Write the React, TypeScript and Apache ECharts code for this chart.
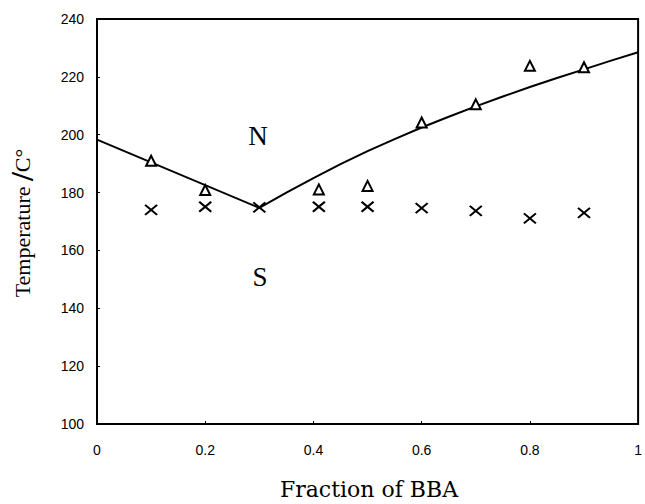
import React, { useEffect, useRef } from "react";
import * as echarts from "echarts";

const xTickValues = [0, 0.2, 0.4, 0.6, 0.8, 1];
const yTickValues = [100, 120, 140, 160, 180, 200, 220, 240];

// Δ points (N boundary)
const fractionsN = [0.1, 0.2, 0.41, 0.5, 0.6, 0.7, 0.8, 0.9];
const tempN = [191.0, 180.9, 181.1, 182.3, 204.2, 210.5, 223.8, 223.3];

// × points (S boundary)
const fractionsS = [0.1, 0.2, 0.3, 0.41, 0.5, 0.6, 0.7, 0.8, 0.9];
const tempS = [174.0, 175.1, 174.9, 175.1, 175.1, 174.6, 173.7, 171.1, 173.0];

// fitted curve
const curveX = [0, 0.3, 0.35, 0.4, 0.45, 0.5, 0.55, 0.6, 0.65, 0.7, 0.75, 0.8, 0.85, 0.9, 0.95, 1.0];
const curveY = [198.3, 174.7, 180.0, 185.0, 189.8, 194.3, 198.5, 202.5, 206.2, 209.8, 213.2, 216.5, 219.6, 222.6, 225.6, 228.5];

const regionLabels = ["N", "S"];

export default function App() {
  const ref = useRef<HTMLDivElement>(null);
  useEffect(() => {
    if (!ref.current) return;
    const chart = echarts.init(ref.current, null, { renderer: "svg" });
    chart.setOption({
      animation: false,
      backgroundColor: "#fff",
      grid: {
        left: 97,
        top: 19,
        right: 3,
        bottom: 80,
        show: true,
        borderColor: "#000",
        borderWidth: 2,
      },
      xAxis: {
        type: "value",
        min: 0,
        max: 1,
        interval: 0.2,
        axisLine: { show: true, onZero: false, lineStyle: { color: "#000", width: 2 } },
        axisTick: { show: true, inside: true, length: 3, lineStyle: { color: "#000", width: 1 } },
        splitLine: { show: false },
        axisLabel: {
          color: "#000",
          fontFamily: "Liberation Sans",
          fontSize: 14,
          margin: 19,
          formatter: (v: number) => {
            const m = xTickValues.find((t) => Math.abs(t - v) < 1e-9);
            return m === undefined ? "" : String(m);
          },
        },
      },
      yAxis: {
        type: "value",
        min: 100,
        max: 240,
        interval: 20,
        axisLine: { show: true, lineStyle: { color: "#000", width: 2 } },
        axisTick: { show: true, inside: true, length: 3, lineStyle: { color: "#000", width: 1 } },
        splitLine: { show: false },
        axisLabel: {
          color: "#000",
          fontFamily: "Liberation Sans",
          fontSize: 14,
          margin: 13,
          formatter: (v: number) => (yTickValues.includes(v) ? String(v) : ""),
        },
      },
      series: [
        {
          type: "line",
          data: curveX.map((x, i) => [x, curveY[i]]),
          showSymbol: false,
          symbol: "none",
          smooth: false,
          lineStyle: { color: "#000", width: 2 },
          z: 1,
        },
        {
          type: "scatter",
          data: fractionsN.map((x, i) => [x, tempN[i]]),
          symbol: "triangle",
          symbolSize: [10, 10],
          itemStyle: { color: "#fff", borderColor: "#000", borderWidth: 2, opacity: 1 },
          z: 3,
        },
        {
          type: "scatter",
          data: fractionsS.map((x, i) => [x, tempS[i]]),
          symbol: "path://M0,0L12,10M0,10L12,0",
          symbolSize: [12, 10],
          itemStyle: { color: "#000", borderColor: "#000", borderWidth: 2, opacity: 1 },
          z: 3,
        },
      ],
      graphic: [
        {
          type: "text",
          x: 258,
          y: 136,
          style: {
            text: regionLabels[0],
            font: "27px 'Liberation Serif'",
            fill: "#000",
            textAlign: "center",
            textVerticalAlign: "middle",
          },
        },
        {
          type: "text",
          x: 260,
          y: 277,
          style: {
            text: regionLabels[1],
            font: "27px 'Liberation Serif'",
            fill: "#000",
            textAlign: "center",
            textVerticalAlign: "middle",
          },
        },
        {
          type: "text",
          x: 369,
          y: 489,
          style: {
            text: "Fraction of BBA",
            font: "22px 'DejaVu Serif'",
            fill: "#000",
            textAlign: "center",
            textVerticalAlign: "middle",
          },
        },
        {
          type: "text",
          x: 22,
          y: 223,
          rotation: Math.PI / 2,
          style: {
            text: "{a|Temperature }{b|/}{c|C°}",
            fill: "#000",
            textAlign: "center",
            textVerticalAlign: "middle",
            rich: {
              a: { font: "22px 'Liberation Serif'", fill: "#000" },
              b: { font: "bold 32px 'Liberation Serif'", fill: "#000" },
              c: { font: "22px 'Liberation Serif'", fill: "#000" },
            },
          },
        },
      ],
    });
    return () => chart.dispose();
  }, []);
  return <div ref={ref} style={{ width: 645, height: 504, position: "absolute", left: 0, top: 0 }} />;
}
